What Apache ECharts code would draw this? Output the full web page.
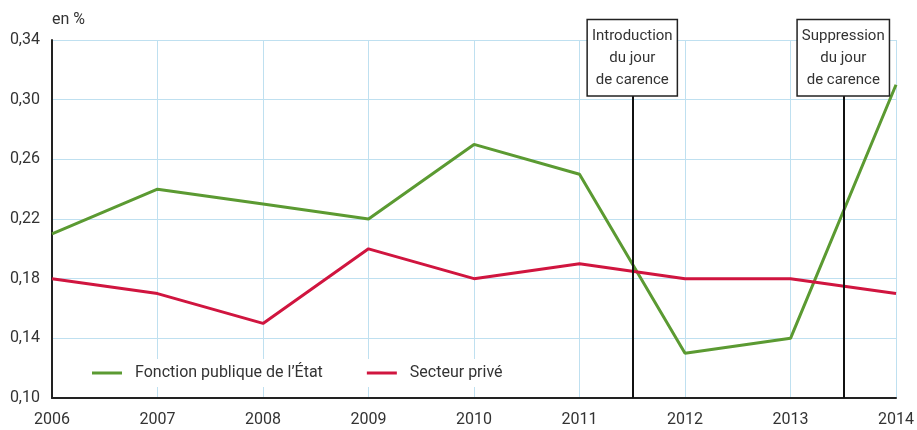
<!DOCTYPE html>
<html>
<head>
<meta charset="utf-8">
<script src="https://cdn.jsdelivr.net/npm/echarts@6/dist/echarts.min.js"></script>
<style>
  html, body { margin: 0; padding: 0; background: #fff; }
  #chart { width: 917px; height: 430px; }
</style>
</head>
<body>
<div id="chart"></div>
<script>
// Data
const years = [2006, 2007, 2008, 2009, 2010, 2011, 2012, 2013, 2014];
const fonctionPublique = [0.21, 0.24, 0.23, 0.22, 0.27, 0.25, 0.13, 0.14, 0.31];
const secteurPrive = [0.18, 0.17, 0.15, 0.20, 0.18, 0.19, 0.18, 0.18, 0.17];
const events = [
  { x: 2011.5, text: 'Introduction\ndu jour\nde carence' },
  { x: 2013.5, text: 'Suppression\ndu jour\nde carence' }
];

const font = "'Liberation Sans Narrow', 'Roboto', sans-serif";
const textColor = '#333';
const gridColor = '#bfe0f0';

const chart = echarts.init(document.getElementById('chart'));

const eventLines = events.map(e => [
  { coord: [e.x, 0.10] },
  { coord: [e.x, 0.303], label: { formatter: e.text } }
]);

chart.setOption({
  animation: false,
  textStyle: { fontFamily: font },
  grid: { left: 52, right: 17, top: 40, bottom: 32 },
  legend: {
    left: 88,
    top: 359,
    itemWidth: 30,
    itemHeight: 3,
    itemGap: 44,
    backgroundColor: '#fff',
    padding: [6, 4],
    icon: 'rect',
    textStyle: { fontFamily: font, fontSize: 16, color: textColor, padding: [0, 0, 0, 8] },
    data: ['Fonction publique de l\u2019État', 'Secteur privé']
  },
  xAxis: {
    type: 'value',
    min: 2006,
    max: 2014,
    interval: 1,
    axisLine: { show: true, onZero: false, lineStyle: { color: '#222', width: 2 } },
    axisTick: { show: false },
    axisLabel: { color: textColor, fontSize: 16, margin: 14, formatter: v => String(v) },
    splitLine: { show: true, lineStyle: { color: gridColor, width: 1 } }
  },
  yAxis: {
    type: 'value',
    min: 0.10,
    max: 0.34,
    interval: 0.04,
    name: 'en %',
    nameLocation: 'end',
    nameGap: 12,
    nameTextStyle: { color: textColor, fontSize: 16, align: 'left', padding: [0, 0, 0, 0] },
    axisLine: { show: true, lineStyle: { color: '#222', width: 2 } },
    axisTick: { show: false },
    axisLabel: {
      color: textColor,
      fontSize: 16,
      margin: 12,
      formatter: v => v.toFixed(2).replace('.', ',')
    },
    splitLine: { show: true, lineStyle: { color: gridColor, width: 1 } }
  },
  series: [
    {
      name: 'Fonction publique de l\u2019État',
      type: 'line',
      data: years.map((y, i) => [y, fonctionPublique[i]]),
      symbol: 'none',
      lineStyle: { color: '#5b9a32', width: 3 },
      itemStyle: { color: '#5b9a32' },
      z: 3
    },
    {
      name: 'Secteur privé',
      type: 'line',
      data: years.map((y, i) => [y, secteurPrive[i]]),
      symbol: 'none',
      lineStyle: { color: '#d0153f', width: 3 },
      itemStyle: { color: '#d0153f' },
      z: 3,
      markLine: {
        silent: true,
        symbol: 'none',
        lineStyle: { color: '#111', width: 2, type: 'solid' },
        label: {
          show: true,
          position: 'end',
          distance: 0,
          fontFamily: font,
          fontSize: 15,
          lineHeight: 22,
          color: textColor,
          align: 'center',
          backgroundColor: '#fff',
          borderColor: '#222',
          borderWidth: 1.5,
          padding: [5, 4, 4, 4]
        },
        data: eventLines
      }
    }
  ]
});
</script>
</body>
</html>
